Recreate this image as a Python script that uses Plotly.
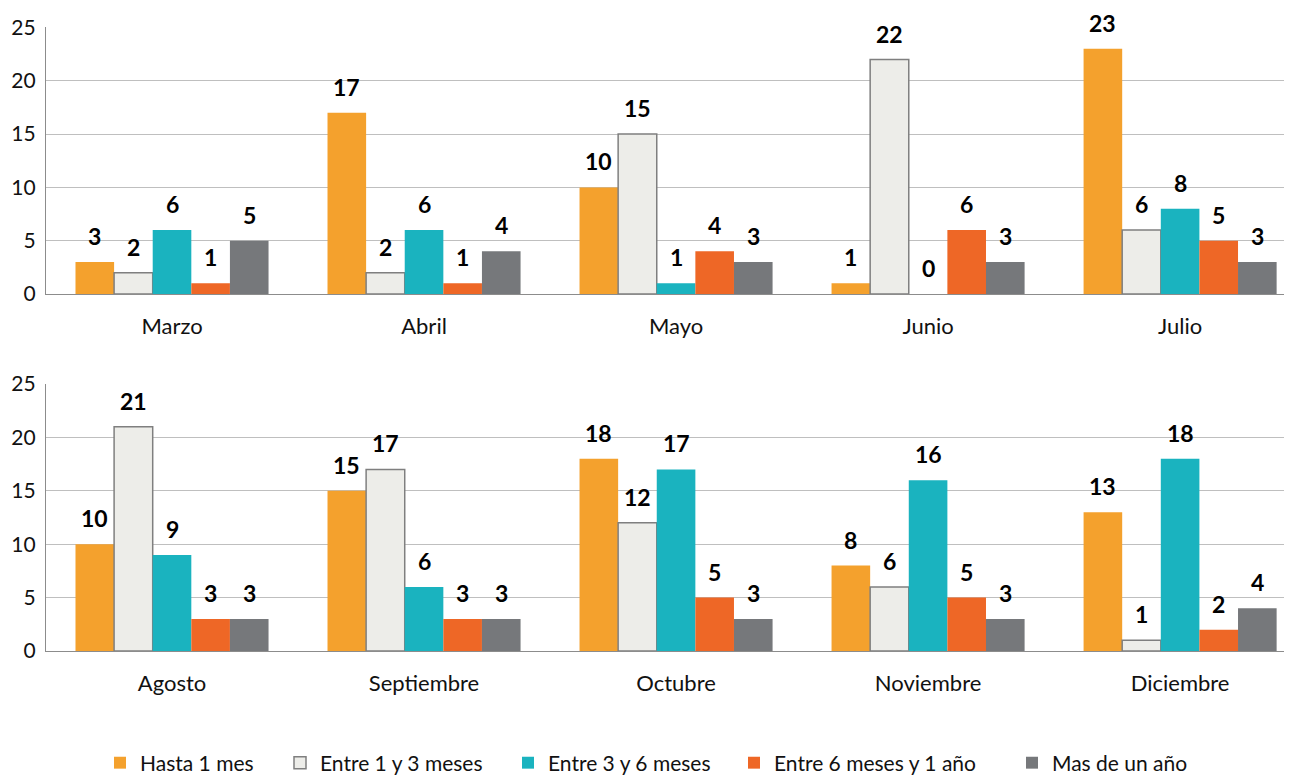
import plotly.graph_objects as go
from plotly.subplots import make_subplots

months_top = ["Marzo", "Abril", "Mayo", "Junio", "Julio"]
months_bottom = ["Agosto", "Septiembre", "Octubre", "Noviembre", "Diciembre"]

series_names = ["Hasta 1 mes", "Entre 1 y 3 meses", "Entre 3 y 6 meses",
                "Entre 6 meses y 1 año", "Mas de un año"]

hasta_1_mes_top = [3, 17, 10, 1, 23]
entre_1_3_top = [2, 2, 15, 22, 6]
entre_3_6_top = [6, 6, 1, 0, 8]
entre_6_12_top = [1, 1, 4, 6, 5]
mas_1_anio_top = [5, 4, 3, 3, 3]

hasta_1_mes_bottom = [10, 15, 18, 8, 13]
entre_1_3_bottom = [21, 17, 12, 6, 1]
entre_3_6_bottom = [9, 6, 17, 16, 18]
entre_6_12_bottom = [3, 3, 5, 5, 2]
mas_1_anio_bottom = [3, 3, 3, 3, 4]

y_ticks = [0, 5, 10, 15, 20, 25]

colors = ["#F4A12D", "#EDEDE9", "#1AB3BF", "#EE6726", "#76787B"]
outlines = ["#F4A12D", "#7F7F7F", "#1AB3BF", "#EE6726", "#76787B"]
outline_w = [0, 1.5, 0, 0, 0]

top_series = [hasta_1_mes_top, entre_1_3_top, entre_3_6_top, entre_6_12_top, mas_1_anio_top]
bottom_series = [hasta_1_mes_bottom, entre_1_3_bottom, entre_3_6_bottom, entre_6_12_bottom, mas_1_anio_bottom]

FONT = "Lato"
OFF = 8  # page body margin in the browser
W, H = 1292 - OFF, 777 - OFF
ML = 46 - OFF
BARGAP = 0.234
X_RANGE = [-0.5, 4.444]
legend_left_px = [114, 294, 522, 748, 1026]
legend_ids = ["legend", "legend2", "legend3", "legend4", "legend5"]

fig = make_subplots(rows=2, cols=1, shared_xaxes=False, vertical_spacing=0.1)

for i, name in enumerate(series_names):
    fig.add_trace(go.Bar(x=months_top, y=top_series[i], name=name,
                         marker=dict(color=colors[i], line=dict(color=outlines[i], width=outline_w[i])),
                         legendgroup=name, showlegend=True, legend=legend_ids[i]), row=1, col=1)
    fig.add_trace(go.Bar(x=months_bottom, y=bottom_series[i], name=name,
                         marker=dict(color=colors[i], line=dict(color=outlines[i], width=outline_w[i])),
                         legendgroup=name, showlegend=False), row=2, col=1)

# value labels
plot_w = W - ML
px_per_cat = plot_w / (X_RANGE[1] - X_RANGE[0])
bar_w = px_per_cat * (1 - BARGAP) / len(series_names)
annotations = []
for xref, yref, cats, series in [("x", "y", months_top, top_series), ("x2", "y2", months_bottom, bottom_series)]:
    for i, vals in enumerate(series):
        for c, v in zip(cats, vals):
            annotations.append(dict(x=c, y=v, xref=xref, yref=yref, text="<b>%d</b>" % v,
                                    showarrow=False, xshift=(i - 2) * bar_w, yshift=26,
                                    yanchor="middle", font=dict(family=FONT, size=23, color="#000000")))

axis_common = dict(showline=True, linecolor="#8C8C8C", linewidth=1.3, automargin=False)
fig.update_xaxes(range=X_RANGE, showgrid=False, ticks="", tickfont=dict(family=FONT, size=22, color="#111111"),
                 ticklabelstandoff=12, **axis_common)
fig.update_yaxes(range=[0, 25.05], tickvals=y_ticks, showgrid=True, gridcolor="#BFBFBF", gridwidth=1,
                 zeroline=False, ticks="", tickfont=dict(family=FONT, size=21, color="#111111"),
                 ticklabelstandoff=5, **axis_common)

top_dom = [(H - (294 - OFF)) / H, (H - (27 - OFF)) / H]
bot_dom = [(H - (651 - OFF)) / H, (H - (383.5 - OFF)) / H]

legend_cfg = {}
for i, lid in enumerate(legend_ids):
    legend_cfg[lid] = dict(orientation="h", x=(legend_left_px[i] - OFF - 14 - ML) / plot_w, xanchor="left",
                           y=(H - (763 - OFF)) / H, yanchor="middle", itemclick=False, borderwidth=0,
                           font=dict(family=FONT, size=21, color="#111111"), bgcolor="rgba(0,0,0,0)")

fig.update_layout(
    width=W, height=H,
    margin=dict(l=ML, r=0, t=0, b=0, autoexpand=False),
    paper_bgcolor="white", plot_bgcolor="white",
    barmode="group", bargap=BARGAP, bargroupgap=0,
    yaxis=dict(domain=top_dom), yaxis2=dict(domain=bot_dom),
    xaxis=dict(domain=[0, 1]), xaxis2=dict(domain=[0, 1]),
    annotations=annotations,
    font=dict(family=FONT),
    **legend_cfg,
)

fig.write_html("out.html")
